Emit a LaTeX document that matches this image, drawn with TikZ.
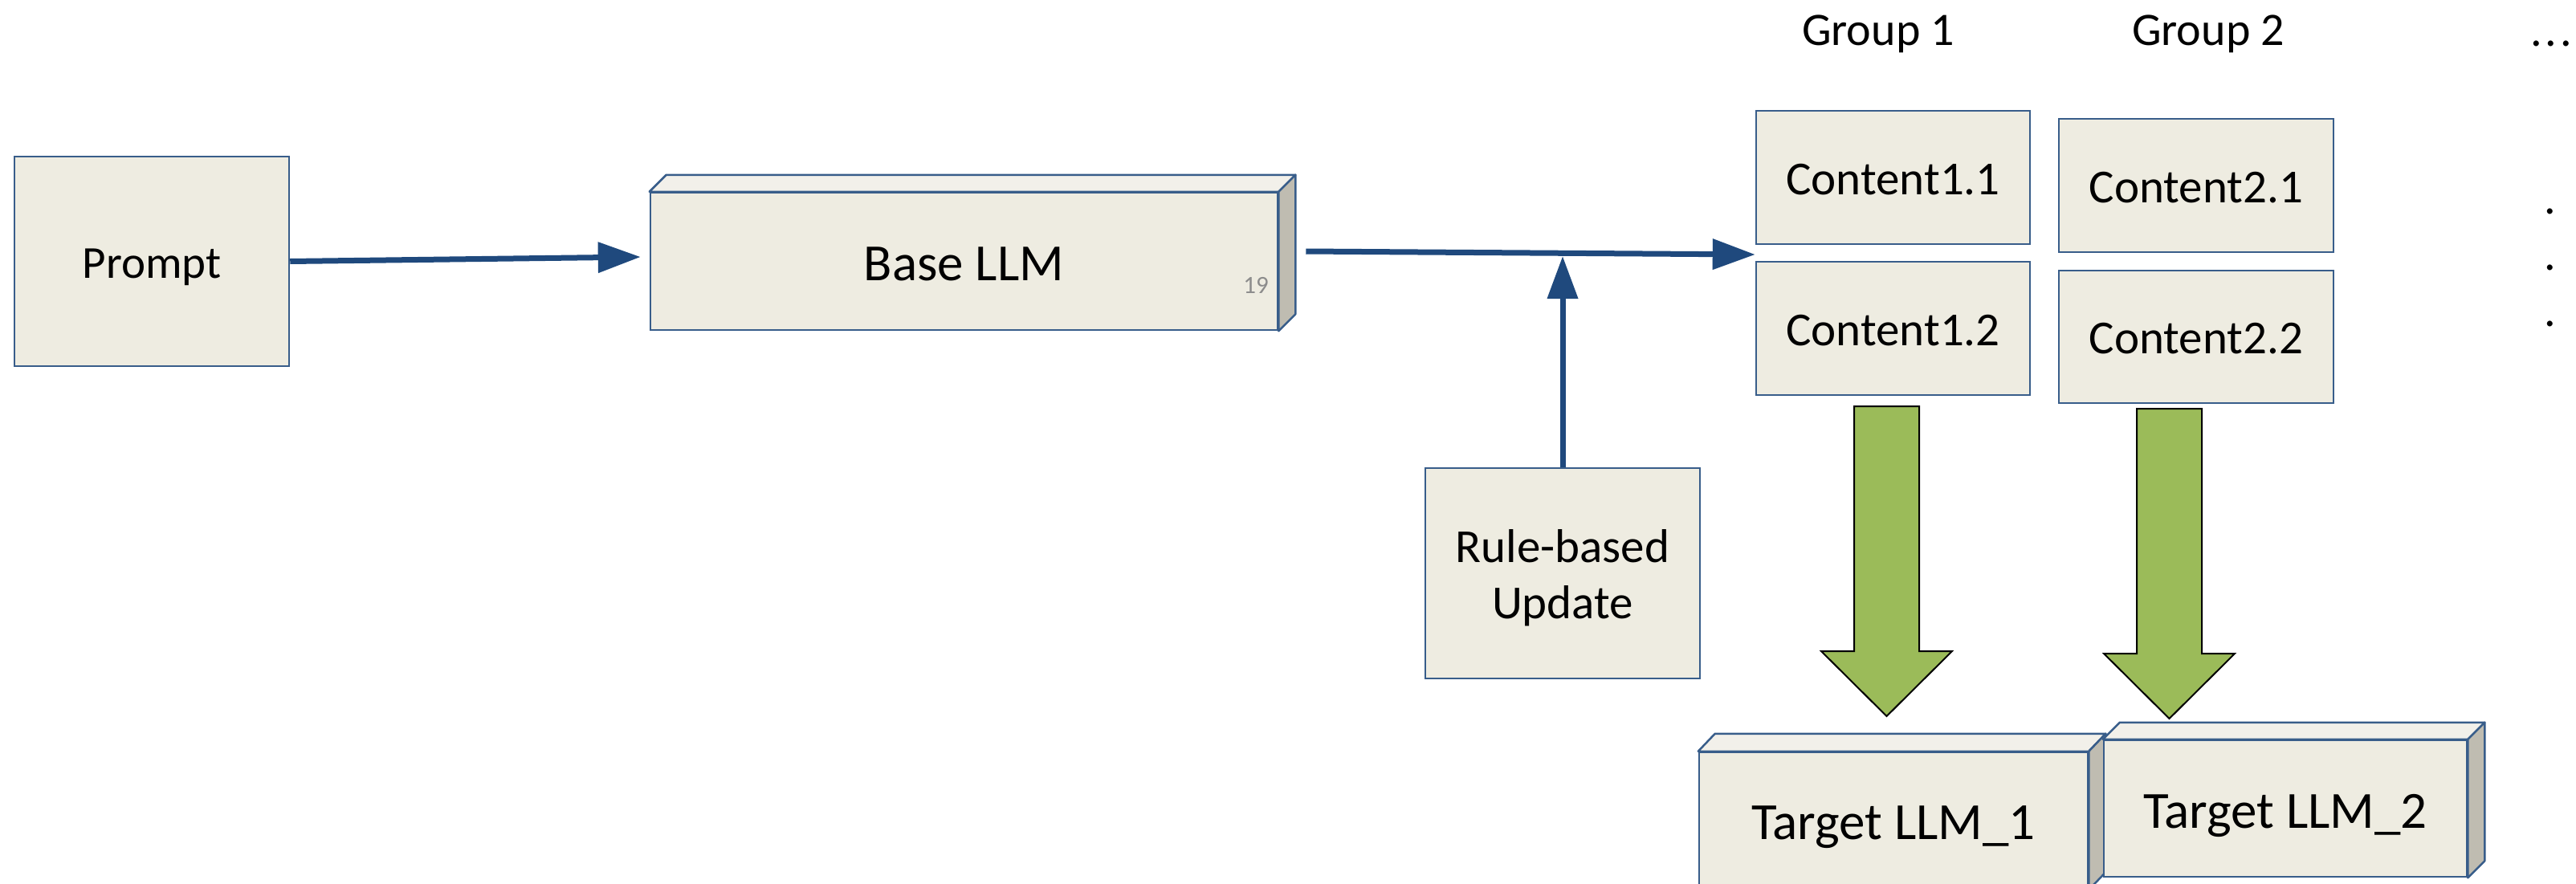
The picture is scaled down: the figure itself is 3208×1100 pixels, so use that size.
\documentclass[tikz,border=0pt]{standalone}
\usepackage{fontspec}
\setmainfont{Carlito}
\usetikzlibrary{arrows.meta,calc}

\definecolor{boxfill}{HTML}{EEECE1}
\definecolor{boxtop}{HTML}{F2F0EA}
\definecolor{boxside}{HTML}{BFBCB1}
\definecolor{boxline}{HTML}{385D8A}
\definecolor{flowblue}{HTML}{1F497D}
\definecolor{leafgreen}{HTML}{9BBB59}

\tikzset{
  panel/.style={draw=boxline, line width=2.5pt, fill=boxfill, inner sep=0pt, text=black,
    text depth=0pt},
  toptint/.style={draw=boxline, line width=2.5pt, fill=boxtop, line join=round},
  sidetint/.style={draw=boxline, line width=2.5pt, fill=boxside, line join=round},
  flow/.style={draw=flowblue, line width=7pt, -{Triangle[length=53pt,width=37pt]}},
  bigarrow/.style={draw=black, line width=2pt, fill=leafgreen, line join=miter},
  fsmall/.style={font=\fontsize{57pt}{68pt}\selectfont},
  fmid/.style={font=\fontsize{59pt}{72pt}\selectfont},
  flarge/.style={font=\fontsize{65pt}{78pt}\selectfont},
  fhead/.style={font=\fontsize{58pt}{70pt}\selectfont},
  label/.style={inner sep=0pt, text=black},
  blockarrow/.pic={
    \draw[bigarrow] (-40.5,0) -- (40.5,0) -- (40.5,305) -- (81.5,305)
      -- (0,386) -- (-81.5,305) -- (-40.5,305) -- cycle;
  }
}

% top and right faces of a box drawn behind a front panel node
\newcommand\depthfaces[3]{%
  \draw[toptint] (#1.north west) -- ++(#2,-#3) -- ($(#1.north east)+(#2,-#3)$)
    -- (#1.north east) -- cycle;
  \draw[sidetint] (#1.north east) -- ++(#2,-#3) -- ($(#1.south east)+(#2,-#3)$)
    -- (#1.south east) -- cycle;
}

\begin{document}
\begin{tikzpicture}[x=1pt, y=-1pt]
\clip (0,0) rectangle (3208,1100);
\fill[white] (0,0) rectangle (3208,1100);

% input and base model
\node[panel, fsmall, text height=42.4pt, minimum width=342pt, minimum height=261pt] (prompt) at (189,325.5) {Prompt};
\node[panel, flarge, text height=47.6pt, minimum width=781pt, minimum height=171pt] (base) at (1200.5,325.5) {Base LLM};
\depthfaces{base}{21}{21}
\node[label, font=\fontsize{31pt}{36pt}\selectfont, text=black!45] (tag19) at (1564,355) {19};

% rule-based update
\node[panel, minimum width=342pt, minimum height=262pt] (rule) at (1946,714) {};
\node[label, fmid, anchor=base] (rule1) at (1946,700.6) {Rule-based};
\node[label, fmid, anchor=base] (rule2) at (1946,770) {Update};

% group headings
\node[label, fhead, anchor=base] (g1) at (2339,56.7) {Group 1};
\node[label, fhead, anchor=base] (g2) at (2750,56.7) {Group 2};
\node[label, fhead] (hdots) at (3177,54) {.\kern4pt.\kern4pt.};

% generated contents
\node[panel, fmid, text height=42.6pt, minimum width=341pt, minimum height=166pt] (c11) at (2357.5,221) {Content1.1};
\node[panel, fmid, text height=42pt, minimum width=341pt, minimum height=166pt] (c12) at (2357.5,409) {Content1.2};
\node[panel, fmid, text height=42.6pt, minimum width=342pt, minimum height=166pt] (c21) at (2735,231) {Content2.1};
\node[panel, fmid, text height=42.4pt, minimum width=342pt, minimum height=165pt] (c22) at (2735,419.5) {Content2.2};

% further groups
\node[label, fhead] (vd1) at (3176,263) {.};
\node[label, fhead] (vd2) at (3176,333) {.};
\node[label, fhead] (vd3) at (3176,403) {.};

% target models
\node[panel, flarge, text height=46pt, minimum width=484pt, minimum height=170pt] (t1) at (2358,1022) {Target LLM\_1};
\depthfaces{t1}{21}{22}
\node[panel, flarge, text height=49.4pt, minimum width=452pt, minimum height=170pt] (t2) at (2846,1007) {Target LLM\_2};
\depthfaces{t2}{21}{21}

% connectors
\coordinate (split) at ($(c11.south west)!0.5!(c12.north west)$);
\coordinate (merge) at ($(rule.north |- split)+(0,4)$);
\draw[flow] (prompt.east) -- ($(base.west)+(-11,-5.5)$);
\draw[flow] ($(base.east)+(34,-12.5)$) -- ($(split)+(0,2)$);
\draw[flow] (rule.north) -- (merge);

% block arrows from groups to targets
\coordinate (a1) at (2349.5,506);
\coordinate (a2) at (2701.5,509);
\pic at (a1) {blockarrow};
\pic at (a2) {blockarrow};
\end{tikzpicture}
\end{document}
